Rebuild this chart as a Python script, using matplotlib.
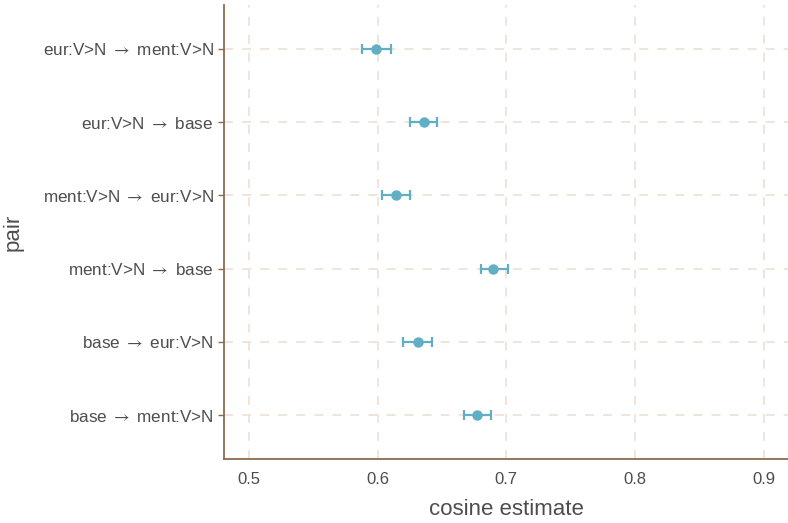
import numpy as np
import matplotlib.pyplot as plt

plt.rcParams['font.family'] = ['Liberation Sans', 'DejaVu Sans']
plt.rcParams['mathtext.fontset'] = 'stixsans'

# data (top to bottom)
pairs = ['eur:V>N → ment:V>N', 'eur:V>N → base', 'ment:V>N → eur:V>N',
         'ment:V>N → base', 'base → eur:V>N', 'base → ment:V>N']
estimate = [0.599, 0.636, 0.614, 0.690, 0.631, 0.677]
lower = [0.588, 0.625, 0.603, 0.680, 0.620, 0.667]
upper = [0.610, 0.646, 0.625, 0.701, 0.642, 0.688]

ypos = np.arange(len(pairs))[::-1] + 1
est = np.array(estimate)
err = [est - np.array(lower), np.array(upper) - est]

fig = plt.figure(figsize=(7.88, 5.23), dpi=100)
ax = fig.add_axes([224/788, 64/523, 564/788, 454/523])

grid_c = '#EFE3D8'
for x in [0.5, 0.6, 0.7, 0.8, 0.9]:
    ax.axvline(x, color=grid_c, lw=1.3, ls=(0, (5, 5)), zorder=0)
for y in ypos:
    ax.axhline(y, color=grid_c, lw=1.3, ls=(0, (5, 5)), zorder=0)

ax.errorbar(est, ypos, xerr=err, fmt='o', color='#62AEC5', ms=6.5,
            elinewidth=1.6, capsize=3.5, capthick=1.6, zorder=3)

ax.set_xlim(0.4805, 0.919)
ax.set_ylim(0.4, 6.6)
ax.set_xticks([0.5, 0.6, 0.7, 0.8, 0.9])
ax.set_xticklabels(['0.5', '0.6', '0.7', '0.8', '0.9'])
ax.set_yticks(ypos)
ax.set_yticklabels([p.replace(' → ', r' $\rightarrow$ ') for p in pairs])

brown = '#8B6B4E'
for s in ['top', 'right']:
    ax.spines[s].set_visible(False)
for s in ['left', 'bottom']:
    ax.spines[s].set_color(brown)
    ax.spines[s].set_linewidth(1.3)
ax.tick_params(axis='y', colors=brown, length=4, width=1, labelcolor='#4D4D4D', labelsize=12.3)
ax.tick_params(axis='x', colors=brown, length=0, labelcolor='#4D4D4D', labelsize=12, pad=9)

ax.set_xlabel('cosine estimate', fontsize=16, color='#4D4D4D', labelpad=9)
ax.set_ylabel('pair', fontsize=16, color='#4D4D4D')
ax.yaxis.set_label_coords(-0.355, 0.5)

fig.savefig('out.png', dpi=100)
